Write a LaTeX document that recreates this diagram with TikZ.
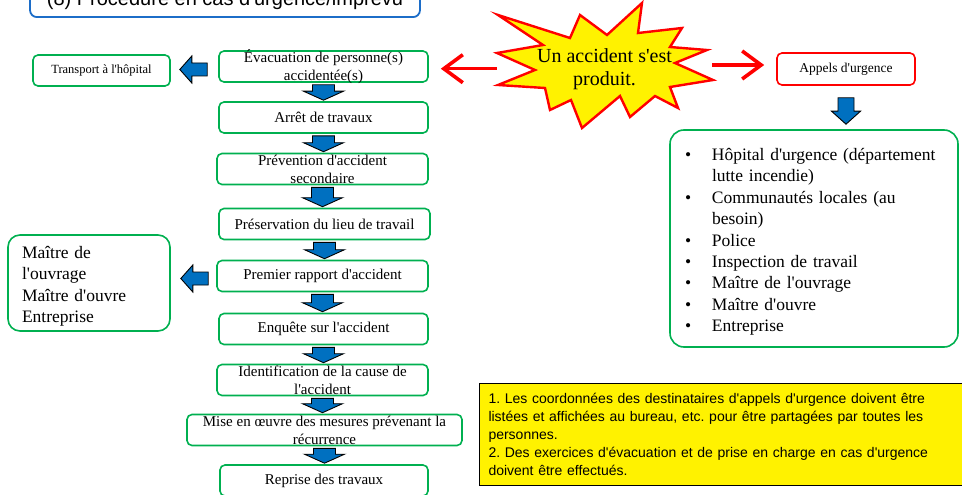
\documentclass[tikz,border=0pt]{standalone}
\usepackage{fontspec}
\newfontfamily\timesfont{Liberation Serif}
\newfontfamily\arialfont{Liberation Sans}
\usetikzlibrary{calc,arrows.meta}

\definecolor{boxgreen}{HTML}{00B050}
\definecolor{arrowblue}{HTML}{0070C0}
\definecolor{titleblue}{HTML}{1C6DC8}

\newcommand\fsz[2]{\timesfont\fontsize{#1}{#2}\selectfont\frenchspacing}
\newcommand\bul{\makebox[27pt][l]{\textbullet}}
\newcommand\ind{\hspace*{27pt}}

% blue block arrow pointing down, from the bottom of #1 to the top of #2
\newcommand\flowdown[2]{%
  \path[blockarrow] let \p1=(#1.south), \p2=(#2.north) in
    (\x1-11pt,\y1-2pt) -- (\x1+11pt,\y1-2pt) -- (\x1+11pt,\y2+10pt)
    -- (\x1+20pt,\y2+10pt) -- (\x1,\y2+1pt) -- (\x1-20pt,\y2+10pt)
    -- (\x1-11pt,\y2+10pt) -- cycle;}

\tikzset{
  flowbox/.style={draw=boxgreen, line width=1.6pt, rounded corners=5pt,
    minimum width=209pt, minimum height=31pt, inner sep=0pt,
    font=\fsz{15}{18}, align=center},
  lbl/.style={font=\fsz{15}{18}, align=center, inner sep=0pt},
  blockarrow/.style={fill=arrowblue, draw=black, line width=0.9pt, line join=miter},
  redarrow/.style={draw=red, line width=3.6pt,
    -{Straight Barb[length=19pt,width=28pt]}},
}

\begin{document}
\begin{tikzpicture}[x=1pt,y=-1pt]
\path[use as bounding box, clip] (0,0) rectangle (962,495);

% title
\node[draw=titleblue, line width=1.8pt, rounded corners=7pt,
  minimum width=390pt, minimum height=32.6pt, anchor=south,
  font={\fsz{20}{24}\arialfont}, text height=14pt, text depth=4pt]
  (title) at (225,18) {(8) Procédure en cas d'urgence/imprévu};

% main sequence
\node[flowbox, label={[lbl]center:{Évacuation de personne(s)\\accidentée(s)}}]
  (evac) at (323.5,66.5) {};
\node[flowbox] (stop) at (323.5,117.5) {Arrêt de travaux};
\node[flowbox, minimum width=211pt,
  label={[lbl]center:{Prévention d'accident\\secondaire}}]
  (prevent) at (322.5,169) {};
\node[flowbox, minimum width=211pt] (preserve) at (324.5,224) {Préservation du lieu de travail};
\node[flowbox, minimum width=211pt] (report) at (322.5,276) {Premier rapport d'accident};
\node[flowbox] (inquiry) at (323.5,329) {Enquête sur l'accident};
\node[flowbox, minimum width=211pt,
  label={[lbl]center:{Identification de la cause de\\l'accident}}]
  (cause) at (322.5,380) {};
\node[flowbox, minimum width=275pt,
  label={[lbl]center:{Mise en œuvre des mesures prévenant la\\récurrence}}]
  (measures) at (324.5,430) {};
\node[flowbox, minimum width=208pt] (resume) at (324,480.5) {Reprise des travaux};

\flowdown{evac}{stop}
\flowdown{stop}{prevent}
\flowdown{prevent}{preserve}
\flowdown{preserve}{report}
\flowdown{report}{inquiry}
\flowdown{inquiry}{cause}
\flowdown{cause}{measures}
\flowdown{measures}{resume}

% side boxes on the left
\node[flowbox, minimum width=137pt, font=\fsz{12.5}{15}] (transport) at (101.5,70.5)
  {Transport à l'hôpital};
\node[draw=boxgreen, line width=1.6pt, rounded corners=12pt,
  minimum width=162pt, minimum height=96pt, text width=134pt, inner xsep=14pt,
  align=left, font=\fsz{17.5}{21.3}]
  (owners) at (89,283) {\rule{0pt}{19pt}Maître de\\l'ouvrage\\Maître d'ouvre\\Entreprise};

\path[blockarrow] let \p1=(evac.west), \p2=(transport.east) in
  (\x1-11pt,\y2+7.5pt) -- (\x2+21pt,\y2+7.5pt) -- (\x2+21pt,\y2+14.5pt)
  -- (\x2+9pt,\y2+1pt) -- (\x2+21pt,\y2-12.5pt) -- (\x2+21pt,\y2-5.5pt)
  -- (\x1-11pt,\y2-5.5pt) -- cycle;
\path[blockarrow] let \p1=(report.west), \p2=(owners.east) in
  (\x1-8pt,\y2+11pt) -- (\x2+22pt,\y2+11pt) -- (\x2+22pt,\y2+18pt)
  -- (\x2+10pt,\y2+4.5pt) -- (\x2+22pt,\y2-9pt) -- (\x2+22pt,\y2-2pt)
  -- (\x1-8pt,\y2-2pt) -- cycle;

% the accident
\draw[red, line width=2.4pt, line join=miter, fill=yellow]
  (498,15) -- (570,38) -- (580,15) -- (607,35) -- (642,3) -- (638,33)
  -- (682,28) -- (670,47) -- (707,50) -- (675,63) -- (713,80) -- (670,87)
  -- (678,108) -- (655,96) -- (630,117) -- (620,96) -- (582,128) -- (571,100)
  -- (550,110) -- (545,88) -- (498,85) -- (535,70) -- (497,53) -- (543,45) -- cycle;
\node[minimum width=215pt, inner sep=0pt, align=center, font=\fsz{20}{23}]
  (accident) at (604.5,68.7) {Un accident s'est\\produit.};

% emergency calls
\node[flowbox, draw=red, minimum width=138pt, minimum height=32pt,
  font=\fsz{13.5}{16}] (calls) at (846,69) {Appels d'urgence};
\node[draw=boxgreen, line width=1.6pt, rounded corners=14pt,
  minimum width=288pt, minimum height=217pt, text width=258pt, inner xsep=15pt,
  align=left, font=\fsz{17.5}{21.4}] (contacts) at (814,238.5)
  {\rule{0pt}{19pt}\bul Hôpital d'urgence (département\\
   \ind lutte incendie)\\
   \bul Communautés locales (au\\
   \ind besoin)\\
   \bul Police\\
   \bul Inspection de travail\\
   \bul Maître de l'ouvrage\\
   \bul Maître d'ouvre\\
   \bul Entreprise};

\draw[redarrow, shorten >=12pt] (accident.west) -- (accident.west -| evac.east);
\draw[redarrow, shorten >=12pt] ([yshift=3.7pt]accident.east)
  -- ([yshift=3.7pt]accident.east -| calls.west);

\path[blockarrow] let \p1=(calls.south), \p2=(contacts.north) in
  (\x1-8pt,\y1-12pt) -- (\x1+8pt,\y1-12pt) -- (\x1+8pt,\y2+18pt)
  -- (\x1+14.5pt,\y2+18pt) -- (\x1,\y2+5pt) -- (\x1-14.5pt,\y2+18pt)
  -- (\x1-8pt,\y2+18pt) -- cycle;

% notes
\node[draw=black, fill=yellow, line width=1pt, anchor=north west,
  text width=472pt, inner xsep=9pt, minimum height=102pt, align=left,
  font={\fsz{14}{17.8}\arialfont}] (note) at (479,383)
  {1. Les coordonnées des destinataires d'appels d'urgence doivent être\\
   listées et affichées au bureau, etc. pour être partagées par toutes les\\
   personnes.\\
   2. Des exercices d'évacuation et de prise en charge en cas d'urgence\\
   doivent être effectués.};
\end{tikzpicture}
\end{document}
